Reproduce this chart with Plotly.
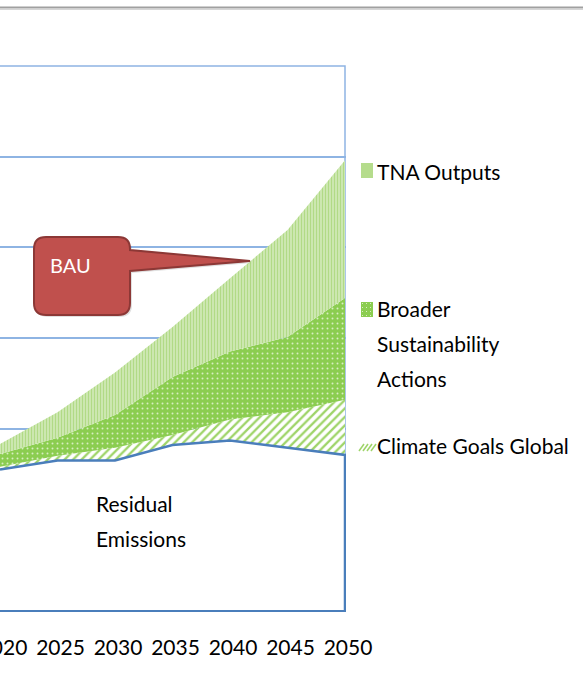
import plotly.graph_objects as go

# Emission pathway levels (stacked tops of each band), in chart units
years = [2020, 2025, 2030, 2035, 2040, 2045, 2050]
residual = [1.55, 1.65, 1.65, 1.82, 1.87, 1.79, 1.71]
climate_top = [1.58, 1.70, 1.79, 1.93, 2.10, 2.18, 2.32]
broader_top = [1.72, 1.90, 2.15, 2.57, 2.85, 3.01, 3.44]
tna_top = [1.83, 2.18, 2.62, 3.12, 3.66, 4.19, 4.96]

tick_years = [2020, 2025, 2030, 2035, 2040, 2045, 2050]

W, H = 583, 677
FONT = "Lato"

# plot area in pixels
PX_LEFT, PX_RIGHT, PX_TOP, PX_BOTTOM = 0, 346, 66, 610


def px(x):
    return x / W


def py(y):
    return 1 - y / H


fig = go.Figure()

# residual emissions (white fill hides the grid beneath)
fig.add_trace(go.Scatter(
    x=years, y=residual, mode="lines", line=dict(width=0),
    fill="tozeroy", fillcolor="white", hoverinfo="skip"))

fig.add_trace(go.Scatter(
    x=years, y=climate_top, mode="lines", line=dict(width=0),
    fill="tonexty", fillcolor="white",
    fillpattern=dict(shape="/", fgcolor="#9ED468", bgcolor="white",
                     size=6, solidity=0.38),
    name="Climate Goals Global"))

fig.add_trace(go.Scatter(
    x=years, y=broader_top, mode="lines", line=dict(width=0),
    fill="tonexty", fillcolor="#8BCD50",
    fillpattern=dict(shape=".", fgcolor="#D8EEC2", bgcolor="#8BCD50",
                     size=5, solidity=0.12),
    name="Broader Sustainability Actions"))

fig.add_trace(go.Scatter(
    x=years, y=tna_top, mode="lines", line=dict(width=0),
    fill="tonexty", fillcolor="#B5DC8C",
    fillpattern=dict(shape="|", fgcolor="#B1DA86", bgcolor="#EEF7E4",
                     size=3, solidity=0.7),
    name="TNA Outputs"))

# outline of the residual emissions area (top edge and right drop)
fig.add_trace(go.Scatter(
    x=years + [years[-1]], y=residual + [0], mode="lines",
    line=dict(color="#4A7EBB", width=2.5), hoverinfo="skip"))

step_px = 345 / 6
x_start = 2020
x_end = 2050 + 1.0 / step_px * 5

fig.update_xaxes(
    domain=[px(PX_LEFT), px(PX_RIGHT)], range=[x_start, x_end],
    tickvals=tick_years, ticktext=[str(t) for t in tick_years],
    showgrid=False, zeroline=False, showline=True,
    linecolor="#4A7EBB", linewidth=2, ticks="", ticklen=0,
    ticklabelstandoff=18, ticklabelshift=3, ticklabeloverflow="allow",
    tickfont=dict(family=FONT, size=21, color="black"),
    automargin=False, fixedrange=True)

fig.update_yaxes(
    domain=[py(PX_BOTTOM), py(PX_TOP)], range=[0, 6], dtick=1,
    showticklabels=False, showgrid=True, gridcolor="#8EB4E3",
    gridwidth=1.5, zeroline=False, showline=False,
    automargin=False, fixedrange=True)

shapes = []

# plot area border (drawn beneath the areas)
shapes.append(dict(type="rect", xref="paper", yref="paper",
                   x0=-0.05, x1=px(345), y0=py(PX_BOTTOM), y1=py(PX_TOP),
                   line=dict(color="#8EB4E3", width=1.5), layer="below"))

# rule across the top of the page
shapes.append(dict(type="line", xref="paper", yref="paper",
                   x0=0, x1=1, y0=py(7.5), y1=py(7.5),
                   line=dict(color="#A0A0A0", width=2)))
shapes.append(dict(type="line", xref="paper", yref="paper",
                   x0=0, x1=1, y0=py(9.5), y1=py(9.5),
                   line=dict(color="#D6D6D6", width=1)))


# BAU callout: rounded box with a pointer
def callout_path(left, top, right, bottom, r, a_top, a_bot, tip):
    pts = []

    def P(x, y):
        return f"{px(x):.5f},{py(y):.5f}"

    pts.append(f"M {P(left + r, top)}")
    pts.append(f"L {P(right - r, top)}")
    pts.append(f"Q {P(right, top)} {P(right, top + r)}")
    pts.append(f"L {P(right, a_top)}")
    pts.append(f"L {P(*tip)}")
    pts.append(f"L {P(right, a_bot)}")
    pts.append(f"L {P(right, bottom - r)}")
    pts.append(f"Q {P(right, bottom)} {P(right - r, bottom)}")
    pts.append(f"L {P(left + r, bottom)}")
    pts.append(f"Q {P(left, bottom)} {P(left, bottom - r)}")
    pts.append(f"L {P(left, top + r)}")
    pts.append(f"Q {P(left, top)} {P(left + r, top)}")
    pts.append("Z")
    return " ".join(pts)


shapes.append(dict(type="path", xref="paper", yref="paper",
                   path=callout_path(36, 239, 132, 317, 12, 252, 273, (252, 263)),
                   fillcolor="rgba(0,0,0,0.12)", line=dict(width=0)))
shapes.append(dict(type="path", xref="paper", yref="paper",
                   path=callout_path(34, 237, 130, 315, 12, 250, 271, (250, 261)),
                   fillcolor="#C0504D", line=dict(color="#8C3836", width=2)))

# legend swatches
sw_x0, sw_x1 = 361, 373
shapes.append(dict(type="rect", xref="paper", yref="paper",
                   x0=px(sw_x0), x1=px(sw_x1), y0=py(178), y1=py(163),
                   fillcolor="#B5DC8C", line=dict(width=0)))
shapes.append(dict(type="rect", xref="paper", yref="paper",
                   x0=px(sw_x0), x1=px(sw_x1), y0=py(317), y1=py(302),
                   fillcolor="#8BCD50", line=dict(width=0)))
for dx in range(0, 12, 4):
    for dy in range(0, 15, 4):
        shapes.append(dict(type="rect", xref="paper", yref="paper",
                           x0=px(sw_x0 + 1 + dx), x1=px(sw_x0 + 2 + dx),
                           y0=py(303 + dy), y1=py(304 + dy),
                           fillcolor="#D8EEC2", line=dict(width=0)))
# hatched swatch
for k in range(4):
    xa = sw_x0 + k * 4
    shapes.append(dict(type="line", xref="paper", yref="paper",
                       x0=px(xa - 2), y0=py(451), x1=px(xa + 3), y1=py(444),
                       line=dict(color="#9ED468", width=1.5)))

annotations = []


def label(text, x, y, size=21, color="black", anchor="left"):
    annotations.append(dict(
        text=text, x=px(x), y=py(y), xref="paper", yref="paper",
        xanchor=anchor, yanchor="middle", showarrow=False,
        font=dict(family=FONT, size=size, color=color), align="left"))


label("TNA Outputs", 375, 171)
label("Broader", 375, 308)
label("Sustainability", 375, 343)
label("Actions", 375, 378)
label("Climate Goals Global", 375, 445)
label("Residual", 94, 503)
label("Emissions", 94, 538)
label("BAU", 70, 265, size=20, color="white", anchor="center")

fig.update_layout(
    width=W, height=H, template="none",
    margin=dict(l=0, r=0, t=0, b=0),
    paper_bgcolor="white", plot_bgcolor="white",
    showlegend=False, shapes=shapes, annotations=annotations,
    font=dict(family=FONT, color="black"))

fig.write_html("out.html")
